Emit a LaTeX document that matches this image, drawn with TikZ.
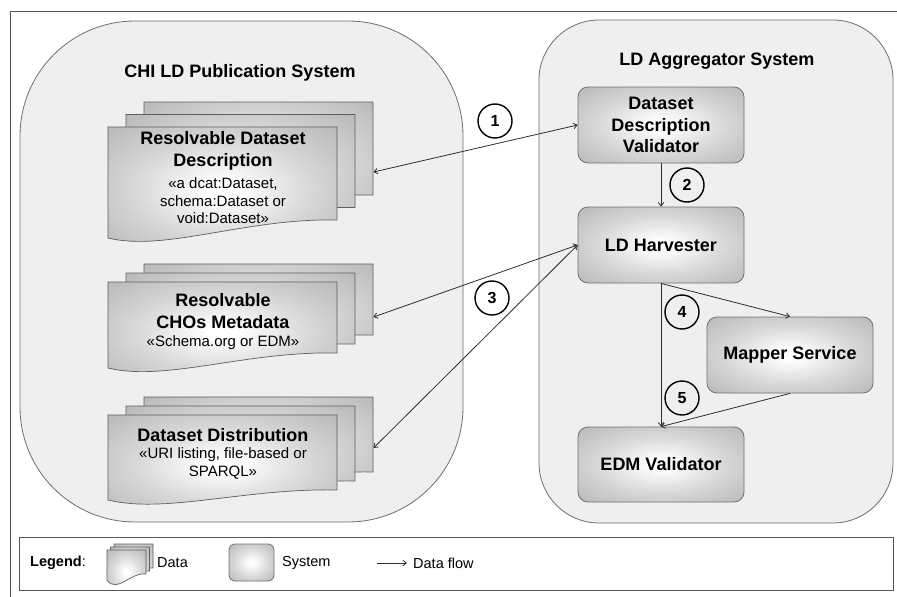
\documentclass[tikz,border=0pt]{standalone}
\usepackage{fontspec}
\setmainfont{Liberation Sans}
\usetikzlibrary{arrows.meta}
\definecolor{contfill}{HTML}{EFEFEF}
\definecolor{contline}{HTML}{6E6E6E}
\definecolor{nodeline}{HTML}{707070}
\definecolor{docline}{HTML}{5E5E5E}
\definecolor{shc}{HTML}{FFFFFF}
\definecolor{shp}{HTML}{D6D6D6}
\definecolor{shq}{HTML}{B4B4B4}
\definecolor{shm}{HTML}{A2A2A2}
\definecolor{she}{HTML}{8E8E8E}
\definecolor{lncol}{HTML}{2E2E2E}
\definecolor{framecol}{HTML}{555555}
\pgfdeclareradialshading{softrad}{\pgfpoint{0bp}{0bp}}{color(0bp)=(shc); color(3bp)=(shc); color(20bp)=(shp); color(38bp)=(shq); color(50bp)=(shm); color(71bp)=(she)}
\newcommand{\boldtxt}{\fontsize{18}{21.5}\selectfont\bfseries}
\newcommand{\subtxt}{\fontsize{15}{17.5}\selectfont}
\newcommand{\legtxt}{\fontsize{14.5}{17}\selectfont}
\newcommand{\docpage}[5]{\path[docpage] (#1,#2) -- (#1+#3,#2) -- (#1+#3,#2+#4) .. controls (#1+0.6*#3,#2+#4-2) and (#1+0.25*#3,#2+#5+14) .. (#1,#2+#5) -- cycle;}
\newcommand{\docstack}[7]{%
  \docpage{#1+2*#6}{#2-2*#7}{#3}{#4}{#5}%
  \docpage{#1+#6}{#2-#7}{#3}{#4}{#5}%
  \docpage{#1}{#2}{#3}{#4}{#5}}
\tikzset{
  container/.style={draw=contline, line width=0.8pt, fill=contfill},
  docpage/.style={draw=docline, line width=0.7pt, shade, shading=softrad},
  sysbox/.style={draw=nodeline, line width=0.8pt, rounded corners=10pt, shade, shading=softrad, align=center, font=\boldtxt, inner sep=0pt},
  numcirc/.style={circle, draw=black, line width=1.4pt, minimum size=34pt, inner sep=0pt, font=\fontsize{16}{16}\selectfont\bfseries},
  flow/.style={draw=lncol, line width=0.8pt, -{Straight Barb[length=3.5pt,width=5.5pt]}},
  biflow/.style={draw=lncol, line width=0.8pt, {Straight Barb[length=3.5pt,width=5.5pt]}-{Straight Barb[length=3.5pt,width=5.5pt]}},
  ttl/.style={font=\boldtxt, inner sep=0pt},
  dtitle/.style={font=\boldtxt, align=center, inner sep=0pt},
  dsub/.style={font=\subtxt, align=center, inner sep=0pt},
  legt/.style={font=\legtxt, anchor=west, inner sep=0pt}
}
\begin{document}
\begin{tikzpicture}[x=1pt,y=-1pt]
\useasboundingbox (0,0) rectangle (897,597);
% outer frame
\draw[framecol, line width=1.5pt] (10.5,600) -- (10.5,11.5) -- (900,11.5);
% containers
\node[container, minimum width=443pt, minimum height=501pt, rounded corners=115pt] (pub) at (241.5,271.5) {};
\node[container, minimum width=354pt, minimum height=503pt, rounded corners=60pt] (agg) at (716,271.5) {};
\node[ttl] (pubt) at (240,73) {CHI LD Publication System};
\node[ttl] (aggt) at (717,61) {LD Aggregator System};
% documents
\docstack{108}{127}{229}{93}{111}{18}{12.5}
\node[dtitle] (d1t) at (223,151) {Resolvable Dataset\\Description};
\node[dsub] (d1s) at (223,201) {«a dcat:Dataset,\\schema:Dataset or\\void:Dataset»};
\docstack{108}{282}{229}{71}{86}{18}{9}
\node[dtitle] (d2t) at (223,311) {Resolvable\\CHOs Metadata};
\node[dsub] (d2s) at (223,343) {«Schema.org or EDM»};
\docstack{108}{415}{229}{75}{85}{18}{9}
\node[dtitle] (d3t) at (223,435) {Dataset Distribution};
\node[dsub] (d3s) at (223,463.5) {«URI listing, file-based or\\SPARQL»};
\coordinate (d1r) at (373.5,172);
\coordinate (d2r) at (373.5,317);
\coordinate (d3r) at (373.5,448);
% system nodes
\node[sysbox, minimum width=166pt, minimum height=76pt] (ddv) at (661,125) {Dataset\\Description\\Validator};
\node[sysbox, minimum width=166pt, minimum height=76pt] (harv) at (661,245) {LD Harvester};
\node[sysbox, minimum width=166pt, minimum height=76pt] (mapper) at (790,355) {Mapper Service};
\node[sysbox, minimum width=166pt, minimum height=75pt] (edm) at (661,464.5) {EDM Validator};
% connectors
\draw[biflow] (d1r) -- (ddv.west);
\draw[flow] (ddv.south) -- (harv.north);
\draw[biflow] (d2r) -- (harv.west);
\draw[biflow] (d3r) -- (harv.west);
\draw[flow] (harv.south) -- (mapper.north);
\draw[flow] (harv.south) -- (edm.north);
\draw[flow] (mapper.south) -- (edm.north);
% number circles
\node[numcirc] (c1) at (495,121) {1};
\node[numcirc] (c2) at (687,185) {2};
\node[numcirc] (c3) at (492,298) {3};
\node[numcirc] (c4) at (682,312) {4};
\node[numcirc] (c5) at (682,398) {5};
% legend
\draw[framecol, line width=1pt] (19.5,537) rectangle (893,590);
\node[legt] (lg) at (30,563) {\textbf{Legend}:};
\docstack{107}{550}{39}{24}{30}{3.5}{3}
\node[legt] (lgd) at (157,563) {Data};
\node[sysbox, minimum width=45pt, minimum height=37pt, rounded corners=6pt] (lgs) at (251.5,562.5) {};
\node[legt] (lgst) at (282,563) {System};
\node[legt] (lgf) at (413,563) {Data flow};
\coordinate (lfa) at (377,563);
\draw[flow] (lfa) -- ([xshift=-6pt]lgf.west);
\end{tikzpicture}
\end{document}
